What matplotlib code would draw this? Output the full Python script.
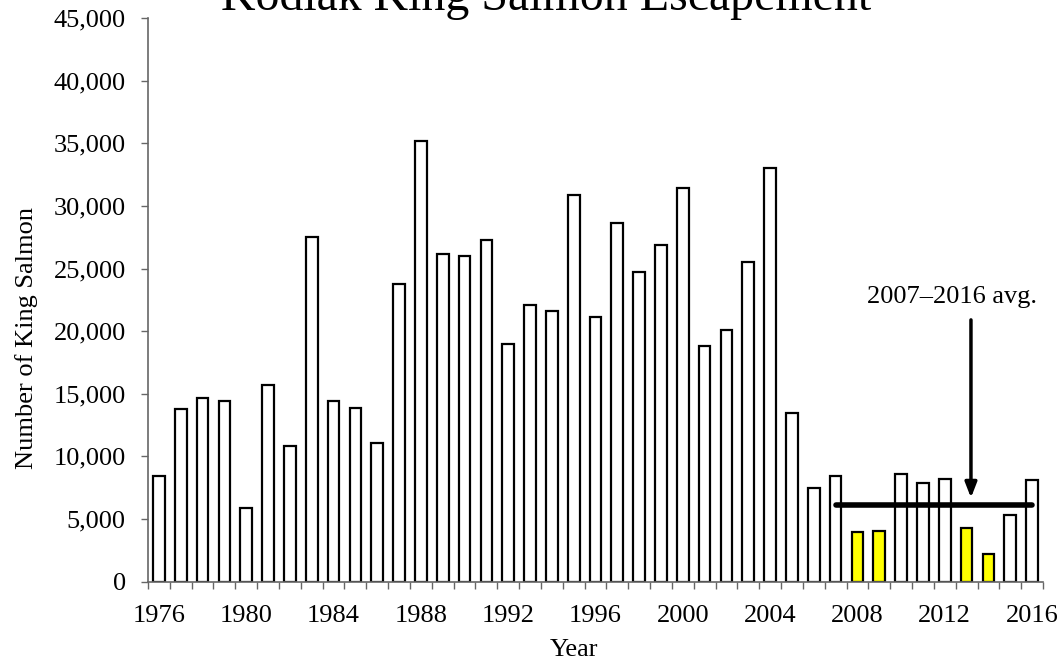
import numpy as np
import matplotlib.pyplot as plt
from matplotlib.ticker import FuncFormatter

years = list(range(1976, 2017))
escapement = [8400, 13800, 14700, 14450, 5870, 15700, 10800, 27500, 14430, 13900,
              11070, 23750, 35200, 26150, 26000, 27300, 19000, 22100, 21600, 30900,
              21100, 28600, 24700, 26900, 31400, 18800, 20100, 25500, 33000, 13500,
              7460, 8450, 3950, 4080, 8600, 7840, 8160, 4300, 2200, 5300, 8130]
highlight_years = [2008, 2009, 2013, 2014]
avg_start, avg_end = 2007, 2016

plt.rcParams["font.family"] = ["Liberation Serif", "DejaVu Serif"]
FS = 19

fig = plt.figure(figsize=(10.62, 6.59), dpi=100)
ax = fig.add_axes([148 / 1062, 1 - 581.7 / 659, 895 / 1062, 563.7 / 659])

x = np.arange(len(years))
colors = ["#FFFF00" if y in highlight_years else "white" for y in years]
ax.bar(x, escapement, width=0.535, color=colors, edgecolor="black", linewidth=1.6, zorder=2)

# average line over the last 10 years
i0, i1 = years.index(avg_start), years.index(avg_end)
avg = np.mean(escapement[i0:i1 + 1])
ax.plot([x[i0], x[i1]], [avg, avg], color="black", linewidth=4, solid_capstyle="round", zorder=3)

ia = years.index(2013)
ax.annotate("", xy=(x[ia] + 0.2, 6700), xytext=(x[ia] + 0.2, 20900),
            arrowprops=dict(arrowstyle="-|>,head_length=0.9,head_width=0.35",
                            color="black", lw=2.5, shrinkA=0, shrinkB=0),
            zorder=4)
ax.text(x[ia] - 0.67, 22700, "2007\u20132016 avg.", ha="center", va="center", fontsize=FS)

ax.set_xlim(-0.5, len(years) - 0.5)
ax.set_ylim(0, 45000)
ax.set_yticks(range(0, 45001, 5000))
ax.yaxis.set_major_formatter(FuncFormatter(lambda v, p: f"{int(v):,}"))

ax.set_xticks(np.arange(-0.5, len(years), 1.0))
ax.set_xticklabels([])
label_idx = [i for i, y in enumerate(years) if (y - 1976) % 4 == 0]
ax.set_xticks(label_idx, minor=True)
ax.set_xticklabels([str(years[i]) for i in label_idx], minor=True)
ax.tick_params(axis="x", which="minor", length=0, labelsize=FS, pad=17)
ax.tick_params(axis="x", which="major", length=5, width=1, color="#666666")
ax.tick_params(axis="y", length=5, width=1, color="#666666", labelsize=FS, pad=11)

for s in ["top", "right"]:
    ax.spines[s].set_visible(False)
for s in ["left", "bottom"]:
    ax.spines[s].set_color("#666666")
    ax.spines[s].set_linewidth(1.2)

ax.set_ylabel("Number of King Salmon", fontsize=FS)
ax.yaxis.set_label_coords(-0.123, 0.433)
ax.set_xlabel("Year", fontsize=FS)
ax.xaxis.set_label_coords(0.4765, -0.101)

fig.text(0.5146, 1.0 - 10 / 659, "Kodiak King Salmon Escapement", ha="center", va="baseline", fontsize=34.5)

fig.savefig("out.png", dpi=100)
